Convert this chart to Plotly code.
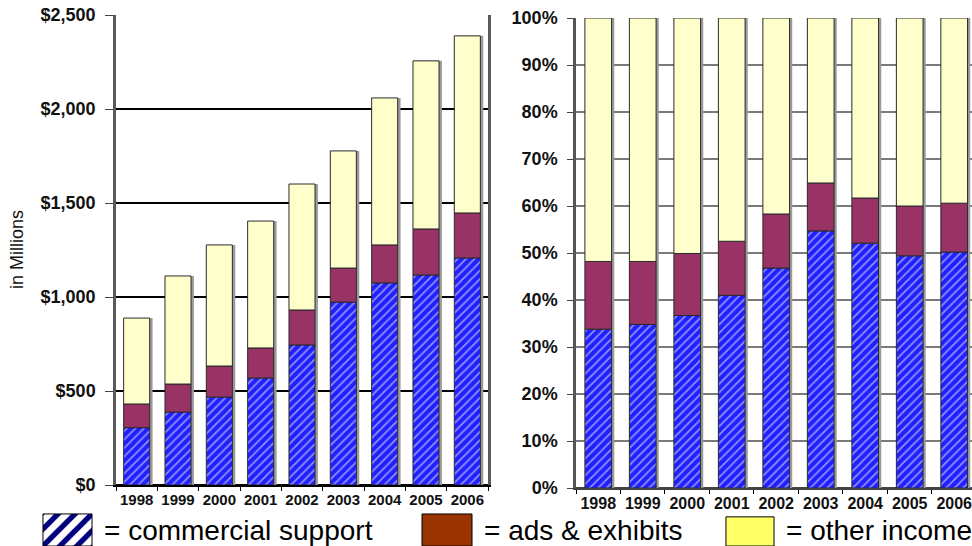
import plotly.graph_objects as go

# ---- data -------------------------------------------------------------
years = ["1998", "1999", "2000", "2001", "2002", "2003", "2004", "2005", "2006"]

# revenue by source, $ millions
commercial_musd = [305, 388, 468, 569, 745, 973, 1075, 1117, 1208]
ads_musd = [126, 149, 165, 160, 186, 181, 202, 245, 239]
other_musd = [457, 575, 644, 675, 670, 623, 782, 894, 942]

# share of revenue by source, percent
commercial_pct = [33.8, 34.8, 36.7, 41.0, 46.8, 54.7, 52.1, 49.4, 50.2]
ads_pct = [14.4, 13.4, 13.2, 11.5, 11.5, 10.2, 9.6, 10.6, 10.4]
other_pct = [51.8, 51.8, 50.1, 47.5, 41.7, 35.1, 38.3, 40.0, 39.4]

legend_labels = ["= commercial support", "= ads & exhibits", "= other income"]

# ---- styles -----------------------------------------------------------
BLUE_BG = "#2020ff"
PURPLE = "#993366"
PALE_YELLOW = "#ffffcc"
EDGE = "#2a2a2a"
SHADOW = "#9a9a9a"
FONT = "Liberation Sans, Arial, sans-serif"

W, H = 972, 546


def px_x(p):
    return p / W


def px_y(p):
    return 1 - p / H


fig = go.Figure()


def add_stack(xa, ya, comm, ads, other, width, shadow_shift):
    base_ads = [c for c in comm]
    base_other = [c + a for c, a in zip(comm, ads)]
    totals = [c + a + o for c, a, o in zip(comm, ads, other)]
    # soft drop shadow behind each column
    fig.add_trace(go.Bar(
        x=years, y=totals, base=[0] * len(years), width=width,
        offset=-width / 2 + shadow_shift,
        marker=dict(color=SHADOW, line=dict(width=0)),
        xaxis=xa, yaxis=ya, hoverinfo="skip"))
    fig.add_trace(go.Bar(
        x=years, y=comm, base=[0] * len(years), width=width,
        marker=dict(color=BLUE_BG, line=dict(color=EDGE, width=1),
                    pattern=dict(shape="/", bgcolor=BLUE_BG, fgcolor="#ffffff",
                                 size=6, solidity=0.3)),
        xaxis=xa, yaxis=ya, name="commercial support"))
    fig.add_trace(go.Bar(
        x=years, y=ads, base=base_ads, width=width,
        marker=dict(color=PURPLE, line=dict(color=EDGE, width=1)),
        xaxis=xa, yaxis=ya, name="ads & exhibits"))
    fig.add_trace(go.Bar(
        x=years, y=other, base=base_other, width=width,
        marker=dict(color=PALE_YELLOW, line=dict(color=EDGE, width=1)),
        xaxis=xa, yaxis=ya, name="other income"))


add_stack("x", "y", commercial_musd, ads_musd, other_musd, 0.63, 0.07)
add_stack("x2", "y2", commercial_pct, ads_pct, other_pct, 0.60, 0.06)

# ---- legend keys (each a single full-size bar on its own tiny axes) ---
key_styles = [
    dict(color="#ffffff", line=dict(color="#000000", width=1),
         pattern=dict(shape="/", bgcolor="#ffffff", fgcolor="#000080",
                      fgopacity=1, size=12, solidity=0.45)),
    dict(color="#993300", line=dict(color="#000000", width=1)),
    dict(color="#ffff66", line=dict(color="#000000", width=1)),
]
key_boxes = [(42, 93, 513), (421, 473, 513), (725, 775, 516)]
for i, (style, (x0, x1, ytop)) in enumerate(zip(key_styles, key_boxes)):
    n = i + 3
    fig.add_trace(go.Bar(x=[0], y=[1], width=1, marker=style,
                         xaxis=f"x{n}", yaxis=f"y{n}", hoverinfo="skip"))
    fig.layout[f"xaxis{n}"] = dict(domain=[px_x(x0), px_x(x1)], range=[-0.52, 0.52],
                                   visible=False, fixedrange=True, anchor=f"y{n}",
                                   automargin=False)
    fig.layout[f"yaxis{n}"] = dict(domain=[0, px_y(ytop)], range=[0, 1.03],
                                   visible=False, fixedrange=True, anchor=f"x{n}",
                                   automargin=False)
    fig.add_annotation(text=legend_labels[i], xref="paper", yref="paper",
                       x=px_x(x1 + 9), y=px_y(530), xanchor="left", yanchor="middle",
                       showarrow=False, font=dict(family=FONT, size=28, color="#000"))

tick_font = dict(family=FONT, size=18, color="#111", weight="bold")
year_font = dict(family=FONT, size=15, color="#111", weight="bold")

fig.update_layout(
    width=W, height=H, margin=dict(l=0, r=0, t=0, b=0, autoexpand=False),
    paper_bgcolor="white", plot_bgcolor="white",
    barmode="overlay", showlegend=False,
    xaxis=dict(domain=[px_x(116), px_x(488)], anchor="y", type="category",
               range=[-0.5, 8.5], showline=True, linecolor="#000", linewidth=1.5,
               ticks="outside", tickson="boundaries", ticklen=4, tickcolor="#000",
               tickangle=0, tickfont=year_font, showgrid=False, automargin=False),
    yaxis=dict(domain=[px_y(485), px_y(15)], anchor="x", range=[0, 2500],
               dtick=500, tickprefix="$", tickformat=",d",
               showgrid=True, gridcolor="#000", gridwidth=1.5,
               zeroline=True, zerolinecolor="#000", zerolinewidth=1.5,
               showline=True, linecolor="#5a5a5a", linewidth=2.5, mirror=True,
               ticks="outside", ticklen=8, tickcolor="#444",
               ticklabelstandoff=6, tickfont=tick_font, automargin=False),
    xaxis2=dict(domain=[px_x(576), 1.0], anchor="y2", type="category",
                range=[-0.5, 8.4], showline=True, linecolor="#444", linewidth=1.5,
                ticks="outside", tickson="boundaries", ticklen=4, tickcolor="#000",
                tickangle=0,
                tickfont=dict(family=FONT, size=16, color="#111", weight="bold"),
                showgrid=False, automargin=False),
    yaxis2=dict(domain=[px_y(488), px_y(18)], anchor="x2", range=[0, 100],
                dtick=10, ticksuffix="%",
                showgrid=True, gridcolor="#7a7a7a", gridwidth=1.5,
                zeroline=True, zerolinecolor="#444", zerolinewidth=1.5,
                showline=True, linecolor="#555", linewidth=2.5,
                ticks="outside", ticklen=6, tickcolor="#444",
                ticklabelstandoff=6, tickfont=tick_font, automargin=False),
)

fig.add_annotation(text="in Millions", xref="paper", yref="paper",
                   x=px_x(17), y=px_y(250), textangle=-90, showarrow=False,
                   xanchor="center", yanchor="middle",
                   font=dict(family=FONT, size=18, color="#111"))

fig.write_html("out.html")
